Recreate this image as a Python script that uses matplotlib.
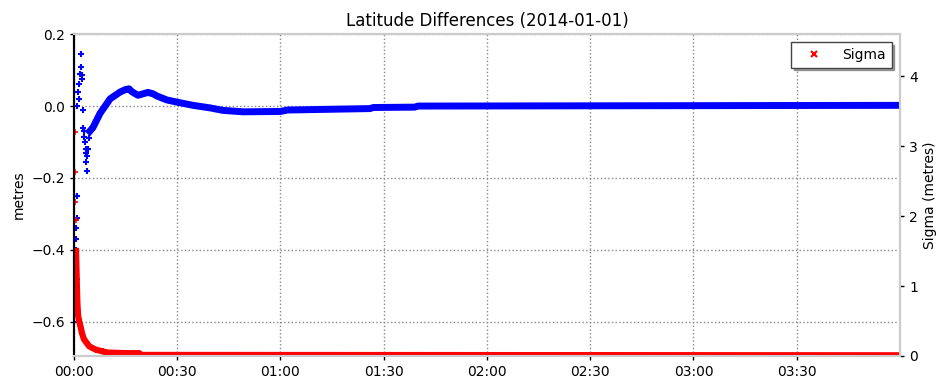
import matplotlib
matplotlib.use("Agg")
import matplotlib.pyplot as plt
from matplotlib.ticker import FuncFormatter, FixedLocator

# Latitude difference (metres) vs. elapsed time (minutes since 00:00)
# initial epochs, before the solution settles
lat_init_t = [0.1, 0.2, 0.3, 0.4, 0.5, 0.6, 0.7, 0.8, 0.9,
              1.0, 1.2, 1.4, 1.6, 1.8, 2.0, 2.1, 2.2, 2.4, 2.6, 2.7, 2.8,
              3.0, 3.2, 3.4, 3.5, 3.6, 3.7, 3.8, 4.0, 4.3]
lat_init_v = [-0.60, -0.53, -0.48, -0.42, -0.40, -0.37, -0.34, -0.31, -0.25,
              0.00, 0.04, 0.02, 0.06, 0.09, 0.145, 0.11, 0.085, 0.075, -0.01, -0.06, -0.07,
              -0.085, -0.10, -0.13, -0.12, -0.155, -0.14, -0.18, -0.12, -0.09]

# converged track
lat_t = [4.6, 5.5, 7.6, 10.5, 13.4, 15.0, 16.0, 16.8, 18.6, 21.5, 23.0, 24.1,
         27.0, 29.9, 34.6, 39.5, 43.3, 49.1, 60.0, 62.0, 86.0, 87.0, 99.0,
         100.0, 240.0]
lat_v = [-0.07, -0.06, -0.02, 0.02, 0.039, 0.046, 0.048, 0.040, 0.030, 0.038,
         0.034, 0.028, 0.017, 0.011, 0.002, -0.005, -0.012, -0.016, -0.015,
         -0.011, -0.007, -0.004, -0.003, 0.0, 0.002]

# Sigma (metres): first epochs, then the decaying track
sig_init_t = [0.1, 0.2, 0.3, 0.4, 0.5]
sig_init_v = [4.6, 3.2, 2.63, 2.2, 1.94]
sig_t = [0.6, 0.7, 0.8, 0.9, 1.0, 1.2, 1.5, 2.0, 2.3, 2.9, 3.8, 4.4, 5.5,
         6.4, 8.4, 9.3, 15.4, 19.0, 19.3, 240.0]
sig_v = [1.5, 1.3, 1.1, 0.9, 0.75, 0.58, 0.5, 0.4, 0.33, 0.24, 0.18, 0.14,
         0.11, 0.09, 0.065, 0.05, 0.04, 0.04, 0.015, 0.01]

x_ticks = [0, 30, 60, 90, 120, 150, 180, 210]
lat_ticks = [-0.6, -0.4, -0.2, 0.0, 0.2]
sig_ticks = [0, 1, 2, 3, 4]

fig = plt.figure(figsize=(9.41, 3.88), dpi=100)
ax = fig.add_axes([0.0786, 0.0825, 0.8778, 0.8295])
ax2 = ax.twinx()

blue = "#0000ff"
red = "#ff0000"

ax.plot(lat_init_t, lat_init_v, linestyle="none", marker="+", ms=5, mew=1.5,
        color=blue)
ax.plot(lat_t, lat_v, linestyle="-", lw=5, marker="+", ms=5, mew=1.5,
        color=blue)

ax2.plot(sig_init_t, sig_init_v, linestyle="none", marker="+", ms=4, mew=1.2,
         color=red)
ax2.plot(sig_t, sig_v, linestyle="-", lw=4.5, marker="+", ms=5, mew=1.5,
         color=red)
# marker-only entry for the legend
ax2.plot([], [], linestyle="none", marker="x", ms=4, mew=1.5, color=red,
         label="Sigma")

ax.set_xlim(0, 240)
ax.set_ylim(-0.695, 0.2)
ax2.set_ylim(0, 4.6)

ax.xaxis.set_major_locator(FixedLocator(x_ticks))
ax.xaxis.set_major_formatter(FuncFormatter(lambda m, p: f"{int(m)//60:02d}:{int(m)%60:02d}"))
ax.set_yticks(lat_ticks)
ax.yaxis.set_major_formatter(FuncFormatter(lambda v, p: f"{v:.1f}".replace("-", "\u2212")))
ax2.set_yticks(sig_ticks)

ax.grid(True, linestyle=":", color="#888888", linewidth=1.0)

for a in (ax, ax2):
    for side in ("top", "right", "bottom"):
        a.spines[side].set_color("#cccccc")
        a.spines[side].set_linewidth(1.5)
    a.spines["left"].set_color("black")
    a.spines["left"].set_linewidth(1.5)
    a.tick_params(labelsize=10, length=3, width=1)

ax.set_title("Latitude Differences (2014-01-01)", fontsize=12)
ax.set_ylabel("metres", fontsize=10)
ax2.set_ylabel("Sigma (metres)", fontsize=10)

leg = ax2.legend(loc="upper right", fontsize=10, numpoints=1, fancybox=False,
                 shadow=True, borderaxespad=0.6, handlelength=2.5)
leg.get_frame().set_edgecolor("#444444")

fig.savefig("out.png", dpi=100)
